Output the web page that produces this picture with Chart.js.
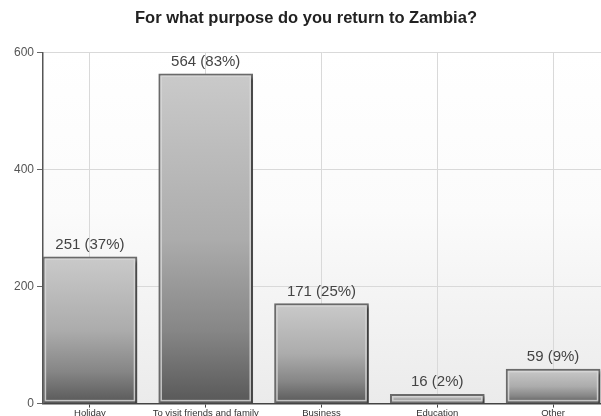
<!DOCTYPE html>
<html>
<head>
<meta charset="utf-8">
<script src="https://cdn.jsdelivr.net/npm/chart.js@4"></script>
<style>
  html, body { margin: 0; padding: 0; background: #fff; }
  #wrap { width: 601px; height: 416px; position: relative; }
</style>
</head>
<body>
<div id="wrap"><canvas id="chart"></canvas></div>
<script>
// data
const categories = ['Holiday', 'To visit friends and family', 'Business', 'Education', 'Other'];
const counts = [251, 564, 171, 16, 59];
const percents = [37, 83, 25, 2, 9];
const yTicks = [0, 200, 400, 600];

// plot background, a soft fade to grey at the bottom
const plotBackground = {
    id: 'plotBackground',
    beforeDraw(chart) {
        const { ctx, chartArea: a } = chart;
        const g = ctx.createLinearGradient(0, a.top, 0, a.bottom);
        g.addColorStop(0, '#ffffff');
        g.addColorStop(0.45, '#fbfbfb');
        g.addColorStop(1, '#ebebeb');
        ctx.save();
        ctx.fillStyle = g;
        ctx.fillRect(a.left, a.top, a.right - a.left, a.bottom - a.top);
        ctx.restore();
    }
};

// drop shadow under the bars
const barShadow = {
    id: 'barShadow',
    beforeDatasetDraw(chart) {
        const ctx = chart.ctx;
        ctx.save();
        ctx.shadowColor = 'rgba(0,0,0,0.45)';
        ctx.shadowBlur = 3;
        ctx.shadowOffsetX = 3;
        ctx.shadowOffsetY = 2;
    },
    afterDatasetDraw(chart) {
        chart.ctx.restore();
    }
};

// inner highlight of each bar and the value labels on top
const barDecor = {
    id: 'barDecor',
    afterDatasetsDraw(chart) {
        const ctx = chart.ctx;
        const meta = chart.getDatasetMeta(0);
        ctx.save();
        meta.data.forEach((bar, i) => {
            const p = bar.getProps(['x', 'y', 'base', 'width'], true);
            const l = p.x - p.width / 2 + 2.5, r = p.x + p.width / 2 - 2.5;
            const t = p.y + 2.5, b = p.base - 2.5;
            ctx.strokeStyle = 'rgba(215,215,215,0.85)';
            ctx.lineWidth = 1.5;
            if (b > t) ctx.strokeRect(l, t, r - l, b - t);
            ctx.fillStyle = '#444';
            ctx.font = '15px "Liberation Sans", Arial, sans-serif';
            ctx.textAlign = 'center';
            ctx.textBaseline = 'alphabetic';
            ctx.fillText(counts[i] + ' (' + percents[i] + '%)', p.x, p.y - 8);
        });
        ctx.restore();
    }
};

function barFill(context) {
    const chart = context.chart;
    const y = chart.scales.y;
    if (!y || context.dataIndex === undefined) return '#999';
    const top = y.getPixelForValue(counts[context.dataIndex]);
    const base = y.getPixelForValue(0);
    if (!isFinite(top) || !isFinite(base) || base - top < 1) return '#999';
    const g = chart.ctx.createLinearGradient(0, top, 0, base);
    g.addColorStop(0, '#cacaca');
    g.addColorStop(0.5, '#acacac');
    g.addColorStop(0.78, '#868686');
    g.addColorStop(1, '#585858');
    return g;
}

new Chart(document.getElementById('chart'), {
    type: 'bar',
    data: {
        datasets: [{
            data: counts.map((v, i) => ({ x: i, y: v })),
            backgroundColor: barFill,
            borderColor: '#6a6a6a',
            borderWidth: 2,
            barThickness: 94
        }]
    },
    options: {
        responsive: true,
        maintainAspectRatio: false,
        animation: false,
        layout: { padding: { left: 11, right: 0, top: 0, bottom: -3 } },
        plugins: {
            legend: { display: false },
            tooltip: { enabled: false },
            title: {
                display: true,
                text: 'For what purpose do you return to Zambia?',
                color: '#222',
                font: { family: '"Liberation Sans", Arial, sans-serif', size: 16.5, weight: 'bold' },
                padding: { top: 9, bottom: 24 }
            }
        },
        scales: {
            x: {
                type: 'linear',
                offset: false,
                min: -0.405,
                max: 4.414,
                ticks: {
                    stepSize: 1,
                    includeBounds: false,
                    autoSkip: false,
                    maxRotation: 0,
                    padding: 0,
                    color: '#333',
                    font: { family: '"Liberation Sans", Arial, sans-serif', size: 9.5 },
                    callback: v => Number.isInteger(v) ? categories[v] : ''
                },
                grid: { offset: false, color: '#d9d9d9', tickColor: '#444', tickLength: 4 },
                border: { color: '#444', width: 1.5 }
            },
            y: {
                min: 0,
                max: 600,
                afterBuildTicks: axis => { axis.ticks = yTicks.map(v => ({ value: v })); },
                ticks: {
                    padding: 3,
                    color: '#555',
                    font: { family: '"Liberation Sans", Arial, sans-serif', size: 12 }
                },
                grid: { color: '#d9d9d9', tickColor: '#666', tickLength: 6 },
                border: { color: '#555', width: 1.5 }
            }
        }
    },
    plugins: [plotBackground, barShadow, barDecor]
});
</script>
</body>
</html>
